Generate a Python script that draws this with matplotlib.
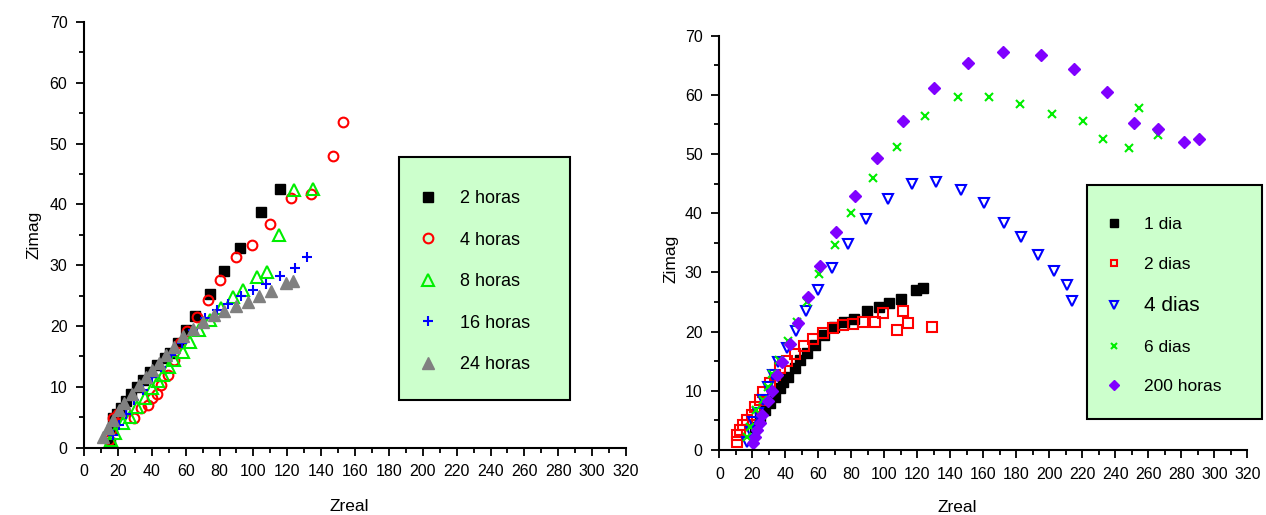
import matplotlib.pyplot as plt
from matplotlib.patches import Rectangle
from matplotlib.ticker import MultipleLocator

plt.rcParams['font.family'] = ['Liberation Sans', 'DejaVu Sans']

# Left panel: horas
h2_x = [15.3, 16.5, 17.3, 19.5, 22, 25, 28, 31.5, 35, 39, 43, 47.5, 51, 55.5, 60, 65.6, 74.1, 82.4, 91.8, 104.7, 115.4]
h2_y = [0.7, 3.0, 4.9, 5.5, 6.5, 7.6, 8.8, 10.0, 11.2, 12.4, 13.6, 14.8, 15.6, 17.2, 19.4, 21.7, 25.3, 29.1, 32.8, 38.7, 42.6]

h4_x = [15, 16, 17.3, 20, 24, 29.3, 33.7, 37.6, 40.2, 42.8, 45.7, 49.6, 53.3, 56.6, 61, 66.9, 73, 80.4, 89.6, 99.2, 109.5, 122.4, 134, 147.1, 153]
h4_y = [1.3, 2.9, 4.8, 5.5, 6.0, 4.8, 6.5, 7.0, 8.1, 8.9, 10.3, 12.0, 14.4, 17.2, 19.2, 21.5, 24.3, 27.6, 31.3, 33.3, 36.8, 41.1, 41.7, 48.0, 53.6]

h8_x = [16.2, 18.4, 22.7, 27.1, 31.5, 35.8, 40.2, 43.5, 46.8, 50, 53.3, 58.4, 62.7, 68, 74.3, 80.7, 87.7, 93.6, 101.9, 107.8, 115, 124.2, 134.9]
h8_y = [1.3, 2.4, 4.0, 5.1, 6.7, 8.1, 9.8, 10.9, 12.0, 13.3, 14.4, 15.8, 17.4, 19.4, 21.0, 22.9, 24.8, 26.0, 28.0, 28.9, 35.0, 42.4, 42.5]

h16_x = [17.3, 20.5, 24.9, 29.3, 34.8, 40.2, 45.7, 51.1, 57.7, 64.3, 71.3, 78.3, 85, 92.5, 99.9, 107.3, 115.4, 124.6, 131.8]
h16_y = [2.1, 3.7, 5.6, 7.8, 9.5, 11.7, 13.3, 15.2, 17.2, 19.4, 21.4, 22.6, 23.6, 24.9, 25.9, 26.9, 28.3, 29.6, 31.4]

h24_x = [11.4, 14, 17.3, 20.5, 23.8, 28.2, 32.6, 36.5, 40.2, 44.1, 48.5, 52.9, 58.4, 64.3, 70.4, 76.5, 82.4, 89.6, 96.6, 103.2, 110.6, 119.3, 123.3]
h24_y = [1.8, 3.2, 4.6, 6.2, 7.3, 8.9, 10.3, 11.7, 12.8, 13.9, 15.2, 16.6, 18.3, 19.5, 20.7, 21.8, 22.4, 23.3, 24.0, 24.9, 25.7, 27.1, 27.4]

# Right panel: dias
d1_x = [21.6, 24.7, 27.7, 30.7, 33.8, 36.8, 38.8, 41.8, 45.9, 49, 53, 58, 63.5, 69.5, 75.8, 81.6, 89.3, 96.8, 102.8, 110.3, 119.2, 123.5]
d1_y = [3.9, 5.4, 6.8, 7.9, 9.0, 10.4, 11.5, 12.4, 13.8, 15.2, 16.4, 17.8, 19.4, 20.7, 21.7, 22.1, 23.4, 24.1, 24.8, 25.5, 27.0, 27.3]

d2_x = [10.5, 10.9, 12.5, 14.5, 16.6, 19.6, 21.6, 24.7, 26.7, 30.7, 33.8, 36.8, 41.2, 45.9, 51.1, 57.0, 63.0, 69.1, 75.2, 81.2, 87.3, 94.4, 99.4, 107.9, 111.3, 114.2, 128.7]
d2_y = [1.4, 2.5, 3.4, 4.2, 5.1, 5.9, 7.3, 8.4, 9.8, 11.3, 12.7, 13.8, 15.0, 16.2, 17.5, 18.8, 19.7, 20.6, 21.1, 21.3, 21.7, 21.7, 23.2, 20.3, 23.4, 21.4, 20.7]

d4_x = [16.6, 19.0, 20.6, 23.3, 26.7, 29.7, 32.7, 35.8, 41.2, 46.3, 52.5, 59.6, 68.3, 78.2, 89.1, 102.4, 116.6, 131.3, 146.5, 160.6, 172.7, 182.7, 193.3, 202.8, 210.9, 213.6]
d4_y = [1.4, 3.1, 4.8, 6.2, 8.4, 10.6, 12.7, 14.9, 17.2, 20.1, 23.4, 27.1, 30.8, 34.8, 39.0, 42.4, 44.9, 45.3, 44.0, 41.8, 38.4, 35.9, 32.9, 30.3, 27.8, 25.2]

d6_x = [16.6, 18.6, 22.2, 26.7, 29.7, 31.8, 36.2, 41.5, 46.9, 53.0, 60.5, 70.2, 79.9, 93.3, 107.9, 124.7, 144.5, 163.6, 182.2, 201.4, 220.6, 232.7, 248.5, 254.5, 265.7]
d6_y = [2.2, 3.9, 6.8, 8.4, 10.7, 12.8, 15.2, 18.4, 21.7, 25.0, 29.8, 34.7, 40.1, 45.9, 51.2, 56.5, 59.7, 59.7, 58.4, 56.7, 55.5, 52.5, 51.0, 57.7, 53.2]

h200_x = [20.6, 21.6, 23.0, 24.7, 25.7, 29.7, 32.1, 34.8, 37.8, 42.8, 47.5, 53.8, 61.0, 70.7, 82.4, 95.8, 111.5, 130.3, 150.5, 172.1, 194.8, 215.2, 234.8, 251.5, 266.1, 281.8, 290.5]
h200_y = [1.2, 2.2, 3.4, 4.5, 5.9, 8.2, 9.9, 12.6, 14.8, 17.9, 21.5, 25.9, 31.0, 36.8, 42.9, 49.3, 55.6, 61.1, 65.3, 67.2, 66.7, 64.4, 60.5, 55.2, 54.3, 52.0, 52.5]

GREEN = '#00ee00'
PURPLE = '#8000ff'
LEGEND_BG = '#ccffcc'


def style_axes(ax):
    ax.set_xlim(0, 320)
    ax.set_ylim(0, 70)
    ax.xaxis.set_major_locator(MultipleLocator(20))
    ax.xaxis.set_minor_locator(MultipleLocator(10))
    ax.yaxis.set_major_locator(MultipleLocator(10))
    ax.yaxis.set_minor_locator(MultipleLocator(5))
    ax.spines['top'].set_visible(False)
    ax.spines['right'].set_visible(False)
    ax.spines['left'].set_linewidth(1.5)
    ax.spines['bottom'].set_linewidth(1.5)
    ax.tick_params(which='major', direction='out', length=6, width=1.3, labelsize=11.5, pad=6)
    ax.tick_params(which='minor', direction='out', length=3.5, width=1.3)
    ax.set_xlabel('Zreal', fontsize=12.5)
    ax.set_ylabel('Zimag', fontsize=12.5)
    ax.patch.set_alpha(0)


fig = plt.figure(figsize=(12.66, 5.15), dpi=100)
ax1 = fig.add_axes([0.0664, 0.1307, 0.4281, 0.8266])
ax2 = fig.add_axes([0.5682, 0.1262, 0.4171, 0.8047])

# left panel
l1, = ax1.plot(h2_x, h2_y, ls='none', marker='s', ms=7.5, mfc='black', mec='black', label='2 horas')
l2, = ax1.plot(h4_x, h4_y, ls='none', marker='o', ms=7, mfc='none', mec='red', mew=1.5, label='4 horas')
l3, = ax1.plot(h8_x, h8_y, ls='none', marker='^', ms=8, mfc='none', mec=GREEN, mew=1.5, label='8 horas')
l4, = ax1.plot(h16_x, h16_y, ls='none', marker='+', ms=7, mec='blue', mew=1.5, label='16 horas')
l5, = ax1.plot(h24_x, h24_y, ls='none', marker='^', ms=8, mfc='#808080', mec='#808080', label='24 horas')
style_axes(ax1)
ax1.xaxis.set_label_coords(0.49, -0.12)
ax1.yaxis.set_label_coords(-0.078, 0.5)

# right panel
r1, = ax2.plot(d1_x, d1_y, ls='none', marker='s', ms=7, mfc='black', mec='black', label='1 dia')
r2, = ax2.plot(d2_x, d2_y, ls='none', marker='s', ms=6.5, mfc='none', mec='red', mew=1.5, label='2 dias')
r3, = ax2.plot(d4_x, d4_y, ls='none', marker='v', ms=7.5, mfc='none', mec='blue', mew=1.5, label='4 dias')
r4, = ax2.plot(d6_x, d6_y, ls='none', marker='x', ms=6, mec=GREEN, mew=1.5, label='6 dias')
r5, = ax2.plot(h200_x, h200_y, ls='none', marker='D', ms=6.5, mfc=PURPLE, mec=PURPLE, label='200 horas')
style_axes(ax2)
ax2.xaxis.set_label_coords(0.45, -0.12)
ax2.yaxis.set_label_coords(-0.078, 0.46)

# legend boxes
fig.patches.append(Rectangle((0.3152, 0.2233), 0.1351, 0.4718, transform=fig.transFigure,
                             facecolor=LEGEND_BG, edgecolor='black', lw=1.5, zorder=1))
fig.patches.append(Rectangle((0.8586, 0.1864), 0.1382, 0.4544, transform=fig.transFigure,
                             facecolor=LEGEND_BG, edgecolor='black', lw=1.5, zorder=1))

leg1 = fig.legend(handles=[l1, l2, l3, l4, l5], loc='upper left', bbox_to_anchor=(0.331, 0.631),
                  frameon=False, fontsize=13, handlelength=1.0, handletextpad=1.27,
                  labelspacing=1.36, borderpad=0, borderaxespad=0)
leg2 = fig.legend(handles=[r1, r2, r3, r4, r5], loc='upper left', bbox_to_anchor=(0.8728, 0.578),
                  frameon=False, fontsize=12.5, handlelength=1.0, handletextpad=1.27,
                  labelspacing=1.4, borderpad=0, borderaxespad=0, markerscale=0.75)
leg2.get_texts()[2].set_fontsize(15)

fig.savefig('out.png', dpi=100)
